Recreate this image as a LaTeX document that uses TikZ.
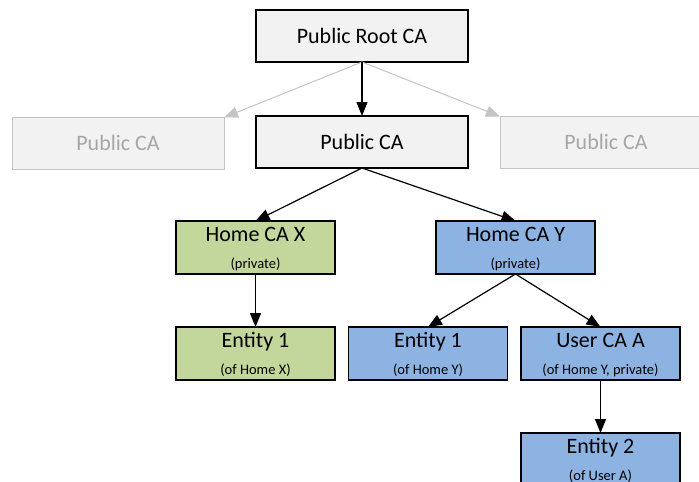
\documentclass[tikz,border=0pt]{standalone}
\usepackage{fontspec}
\setmainfont{Carlito}
\usetikzlibrary{arrows.meta}

\definecolor{boxgray}{HTML}{F2F2F2}
\definecolor{ghostline}{HTML}{C4C4C4}
\definecolor{ghosttext}{HTML}{A6A6A6}
\definecolor{greenfill}{HTML}{C3D69B}
\definecolor{bluefill}{HTML}{8DB3E2}

\tikzset{
  box/.style={draw=black, line width=1.2pt, fill=boxgray,
    minimum width=212pt, minimum height=52pt, inner sep=0pt, outer sep=0pt},
  ghostbox/.style={box, draw=ghostline, line width=1pt},
  smallbox/.style={box, minimum width=159pt, minimum height=53pt},
  greenbox/.style={smallbox, fill=greenfill},
  bluebox/.style={smallbox, fill=bluefill},
  title/.style={anchor=base, inner sep=0pt, font=\fontsize{22}{26}\selectfont},
  ghosttitle/.style={title, text=ghosttext},
  subtitle/.style={anchor=base, inner sep=0pt, font=\fontsize{14.5}{17}\selectfont},
  link/.style={line width=1.2pt, -{Triangle[length=14pt,width=11pt]}},
  ghostlink/.style={draw=ghostline, line width=1pt,
    -{Triangle[length=14pt,width=11pt,fill=ghostline]}}
}

% box with a title and a smaller second line; #3,#4 = centre x and top edge
\newcommand\cabox[6]{%
  \node[#2] (#1) at (#3,#4+26.5) {};
  \node[title] (#1-t) at (#3,#4+20.5) {#5};
  \node[subtitle] (#1-s) at (#3,#4+47) {#6};
}

\begin{document}
\begin{tikzpicture}[x=1pt,y=-1pt]
  \useasboundingbox (0,0) rectangle (699,482);
  \clip (0,0) rectangle (699,482);

  % public hierarchy
  \node[box] (root) at (362,36) {};
  \node[title] (root-t) at (362,43.1) {Public Root CA};
  \node[box] (pub) at (362,142) {};
  \node[title] (pub-t) at (362,149.1) {Public CA};
  \node[ghostbox] (gl) at (118,143.5) {};
  \node[ghosttitle] (gl-t) at (118,150.6) {Public CA};
  \node[ghostbox] (gr) at (606,142.5) {};
  \node[ghosttitle] (gr-t) at (606,149.6) {Public CA};

  % private hierarchies
  \cabox{homex}{greenbox}{255.5}{221}{Home CA X}{(private)}
  \cabox{homey}{bluebox}{515.5}{221}{Home CA Y}{(private)}
  \cabox{entx}{greenbox}{255.5}{327}{Entity 1}{(of Home X)}
  \cabox{enty}{bluebox}{428}{327}{Entity 1}{(of Home Y)}
  \cabox{usera}{bluebox}{600.5}{327}{User CA A}{(of Home Y, private)}
  \cabox{enta}{bluebox}{600.5}{433}{Entity 2}{(of User A)}

  % certification links
  \draw[ghostlink] (root.south) -- (gl.north east);
  \draw[ghostlink] (root.south) -- (gr.north west);
  \draw[link] (root.south) -- (pub.north);
  \draw[link] (pub.south) -- (homex.north);
  \draw[link] (pub.south) -- (homey.north);
  \draw[link] (homex.south) -- (entx.north);
  \draw[link] (homey.south) -- (enty.north);
  \draw[link] (homey.south) -- (usera.north);
  \draw[link] (usera.south) -- (enta.north);
\end{tikzpicture}
\end{document}
